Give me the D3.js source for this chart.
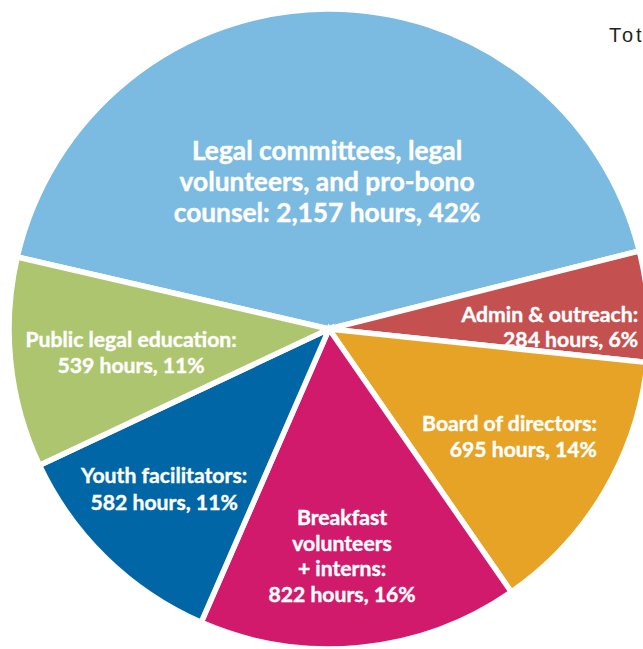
<!DOCTYPE html>
<html>
<head>
<meta charset="utf-8">
<script src="https://cdn.jsdelivr.net/npm/d3@7"></script>
<style>
  html, body { margin: 0; padding: 0; background: #ffffff; overflow: hidden; }
  svg { display: block; }
</style>
</head>
<body>
<svg id="chart" width="643" height="649"></svg>
<script>
// ---- data ----
const categories = [
  "Legal committees, legal volunteers, and pro-bono counsel",
  "Admin & outreach",
  "Board of directors",
  "Breakfast volunteers + interns",
  "Youth facilitators",
  "Public legal education"
];
const hours = [2157, 284, 695, 822, 582, 539];
const percentLabels = ["42%", "6%", "14%", "16%", "11%", "11%"];
const labelLines = [
  ["Legal committees, legal", "volunteers, and pro-bono", "counsel: 2,157 hours, 42%"],
  ["Admin & outreach:", "284 hours, 6%"],
  ["Board of directors:", "695 hours, 14%"],
  ["Breakfast", "volunteers", "+ interns:", "822 hours, 16%"],
  ["Youth facilitators:", "582 hours, 11%"],
  ["Public legal education:", "539 hours, 11%"]
];
const colors = ["#7bbae1", "#c4514f", "#e6a326", "#d21a6d", "#0066a5", "#adc56f"];

// ---- layout (styles/positions) ----
const W = 643, H = 649;
const cx = 329, cy = 329, R = 320;
const deg = Math.PI / 180;
const startDeg = -77;
// label placement relative to slice: radius fraction, angle offset (deg), anchor, font size, line height
const labelCfg = [
  { rf: 0.459, da: -0.2, anchor: "middle", fs: 26.3, lh: 31, cap: 18 },
  { rf: 0.966, da: 3.76, anchor: "end",    fs: 21.2, lh: 25.5, cap: 14 },
  { rf: 0.903, da: -8.7, anchor: "end",    fs: 21.2, lh: 26, cap: 14 },
  { rf: 0.712, da: 2.3,  anchor: "middle", fs: 21.2, lh: 25.7, cap: 14 },
  { rf: 0.719, da: 1.6,  anchor: "middle", fs: 21.2, lh: 27, cap: 14 },
  { rf: 0.623, da: -0.8, anchor: "middle", fs: 21.2, lh: 26, cap: 14 }
];

const svg = d3.select("#chart");
const g = svg.append("g").attr("transform", `translate(${cx},${cy})`);

const pie = d3.pie()
  .sort(null)
  .value(d => d)
  .startAngle(startDeg * deg)
  .endAngle((startDeg + 360) * deg);

const arcs = pie(hours);
const arc = d3.arc().innerRadius(0).outerRadius(R);

g.selectAll("path.slice")
  .data(arcs)
  .join("path")
  .attr("class", "slice")
  .attr("d", arc)
  .attr("fill", (d, i) => colors[i])
  .attr("stroke", "#ffffff")
  .attr("stroke-width", 5.5)
  .attr("stroke-linejoin", "miter");

// labels
arcs.forEach((d, i) => {
  const c = labelCfg[i];
  const a = (d.startAngle + d.endAngle) / 2 + c.da * deg;
  const r = R * c.rf;
  const x = Math.sin(a) * r;
  const y = -Math.cos(a) * r;
  const lines = labelLines[i];
  const n = lines.length;
  const firstBaseline = y - (n - 1) * c.lh / 2 + c.cap / 2;
  const t = g.append("text")
    .attr("text-anchor", c.anchor)
    .attr("fill", "#ffffff")
    .attr("font-family", "Lato, 'Open Sans', sans-serif")
    .attr("font-weight", 700)
    .attr("font-size", c.fs)
    .attr("stroke", "#ffffff")
    .attr("stroke-width", 0.4);
  lines.forEach((ln, j) => {
    t.append("tspan")
      .attr("x", x)
      .attr("y", firstBaseline + j * c.lh)
      .text(ln);
  });
});

// total note (cropped at right edge in the reference)
const total = d3.sum(hours);
svg.append("text")
  .attr("x", 609)
  .attr("y", 42)
  .attr("fill", "#231f20")
  .attr("font-family", "'Liberation Sans', Arial, sans-serif")
  .attr("font-size", 20)
  .style("letter-spacing", "3px")
  .text("Total: " + d3.format(",")(total) + " hours");
</script>
</body>
</html>
